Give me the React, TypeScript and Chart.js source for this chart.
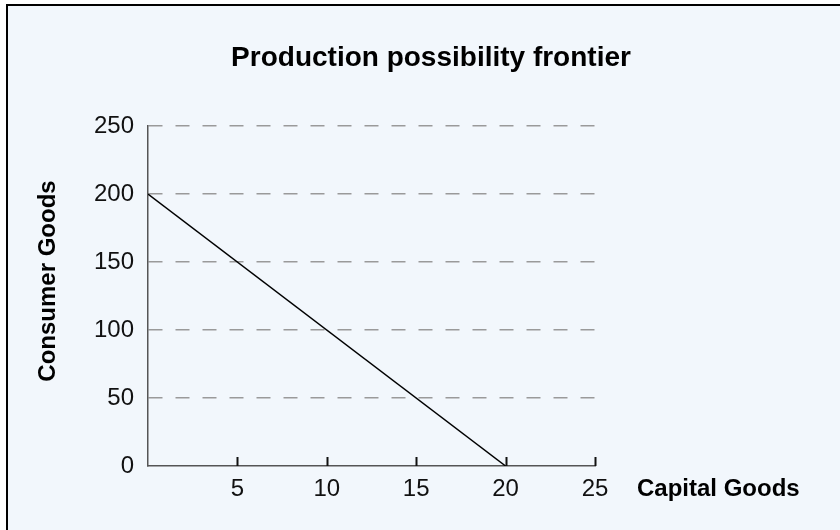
import React, { useEffect, useRef } from "react";
import { Chart, registerables } from "chart.js";

Chart.register(...registerables);

const chartTitle = "Production possibility frontier";
const xAxisTitle = "Capital Goods";
const yAxisTitle = "Consumer Goods";
const capitalGoods = [0, 20];
const consumerGoods = [200, 0];
const xTickValues = [5, 10, 15, 20, 25];
const yTickValues = [0, 50, 100, 150, 200, 250];

const FONT = "'Liberation Sans', Arial, Helvetica, sans-serif";

const textPlugin = {
  id: "customText",
  afterDraw(chart: any) {
    const ctx = chart.ctx;
    const xs = chart.scales.x;
    const area = chart.chartArea;
    ctx.save();
    // inward x ticks
    ctx.strokeStyle = "#111";
    ctx.lineWidth = 2;
    xTickValues.forEach((v) => {
      const px = Math.round(xs.getPixelForValue(v)) + 0.5;
      ctx.beginPath();
      ctx.moveTo(px, area.bottom);
      ctx.lineTo(px, area.bottom - 9);
      ctx.stroke();
    });
    ctx.fillStyle = "#000";
    ctx.textBaseline = "middle";
    ctx.textAlign = "center";
    ctx.font = `bold 28px ${FONT}`;
    ctx.fillText(chartTitle, 431, 58);
    ctx.font = `bold 24px ${FONT}`;
    ctx.textAlign = "left";
    ctx.fillText(xAxisTitle, 637, 489);
    ctx.translate(48, 281);
    ctx.rotate(-Math.PI / 2);
    ctx.textAlign = "center";
    ctx.fillText(yAxisTitle, 0, 0);
    ctx.restore();
  },
};

export default function App() {
  const ref = useRef<HTMLCanvasElement | null>(null);
  useEffect(() => {
    if (!ref.current) return;
    const points = capitalGoods.map((x, i) => ({ x, y: consumerGoods[i] }));
    const chart = new Chart(ref.current, {
      type: "scatter",
      data: {
        datasets: [
          {
            data: points,
            showLine: true,
            borderColor: "#000",
            borderWidth: 1.5,
            pointRadius: 0,
            pointHoverRadius: 0,
          },
        ],
      },
      options: {
        responsive: false,
        animation: false,
        events: [],
        layout: { padding: { left: 0, top: 126, right: 245, bottom: 0 } },
        plugins: {
          legend: { display: false },
          title: { display: false },
          tooltip: { enabled: false },
        },
        scales: {
          x: {
            type: "linear",
            min: 0,
            max: 25,
            afterFit: (s: any) => {
              s.height = 64;
            },
            afterBuildTicks: (s: any) => {
              s.ticks = xTickValues.map((v) => ({ value: v }));
            },
            ticks: {
              font: { family: FONT, size: 24 },
              color: "#111",
              padding: 9,
              maxRotation: 0,
            },
            grid: { display: true, drawOnChartArea: false, drawTicks: false, color: "rgba(0,0,0,0)" },
            border: { display: true, color: "#555", width: 1.5 },
          },
          y: {
            type: "linear",
            min: 0,
            max: 250,
            afterFit: (s: any) => {
              s.width = 148;
            },
            afterBuildTicks: (s: any) => {
              s.ticks = yTickValues.map((v) => ({ value: v }));
            },
            ticks: {
              font: { family: FONT, size: 24 },
              color: "#111",
              padding: 14,
            },
            grid: {
              drawTicks: false,
              lineWidth: 1.5,
              color: (c: any) => (c.tick && c.tick.value === 0 ? "rgba(0,0,0,0)" : "#9a9a9a"),
            },
            border: { display: true, color: "#555", width: 1.5, dash: [14, 13] },
          },
        },
      },
      plugins: [textPlugin],
    });
    return () => chart.destroy();
  }, []);

  return (
    <div
      style={{
        position: "fixed",
        left: 0,
        top: 0,
        width: 840,
        height: 530,
        background: "#fff",
        overflow: "hidden",
      }}
    >
      <div
        style={{
          position: "absolute",
          left: 6,
          top: 4,
          width: 900,
          height: 600,
          border: "2px solid #000",
          background: "#f2f7fc",
        }}
      />
      <canvas
        ref={ref}
        width={840}
        height={530}
        style={{ position: "absolute", left: 0, top: 0, width: 840, height: 530 }}
      />
    </div>
  );
}
